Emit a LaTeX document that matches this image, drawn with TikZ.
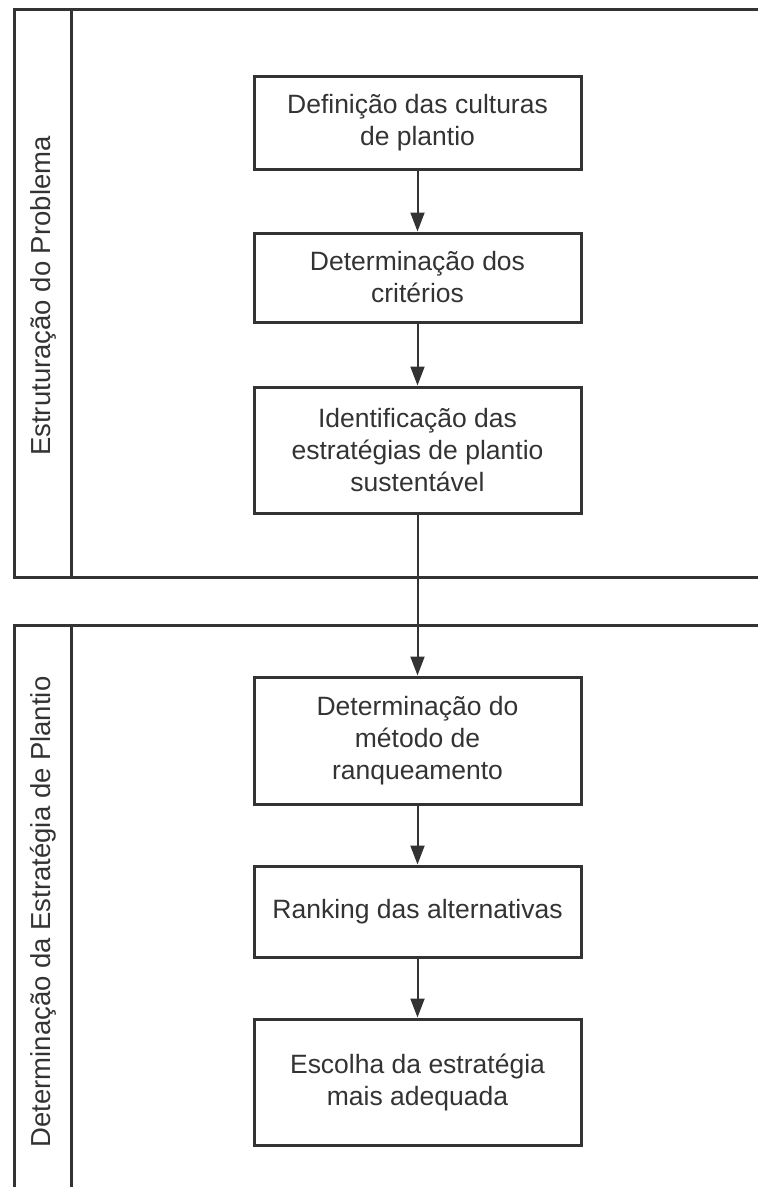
\documentclass[tikz,border=0pt]{standalone}
\usepackage{fontspec}
\setmainfont{Liberation Sans}
\usetikzlibrary{arrows.meta}
\definecolor{ink}{HTML}{333333}
\begin{document}
\begin{tikzpicture}[x=1pt,y=-1pt,
  lane/.style={draw=ink,line width=3pt},
  stepbox/.style={draw=ink,line width=3pt,minimum width=327pt,align=center,
    text=ink,font=\fontsize{26.5}{32}\selectfont,inner sep=0pt},
  flow/.style={draw=ink,line width=2pt,-{Triangle[length=19pt,width=14pt]}},
  lanelabel/.style={rotate=90,text=ink,font=\fontsize{27.5}{33}\selectfont,inner sep=0pt}]
\useasboundingbox (0,0) rectangle (758,1187);
% lanes
\draw[lane] (758,9) -- (14,9) -- (14,577) -- (758,577);
\draw[lane] (71,9) -- (71,577);
\draw[lane] (758,625) -- (14,625) -- (14,1190);
\draw[lane] (71,625) -- (71,1190);
\node[lanelabel] (l1) at (43,296) {Estruturação do Problema};
\node[lanelabel] (l2) at (43,912) {Determinação da Estratégia de Plantio};
% boxes
\node[stepbox,minimum height=93pt] (b1) at (417.5,122.5) {Definição das culturas\\de plantio};
\node[stepbox,minimum height=89pt] (b2) at (417.5,277.5) {Determinação dos\\critérios};
\node[stepbox,minimum height=126pt] (b3) at (417.5,450) {Identificação das\\estratégias de plantio\\sustentável};
\node[stepbox,minimum height=127pt] (b4) at (417.5,740.5) {Determinação do\\método de\\ranqueamento};
\node[stepbox,minimum height=91pt] (b5) at (417.5,911.5) {Ranking das alternativas};
\node[stepbox,minimum height=126pt] (b6) at (417.5,1082) {Escolha da estratégia\\mais adequada};
% connectors
\draw[flow] (b1.south) -- (b2.north);
\draw[flow] (b2.south) -- (b3.north);
\draw[flow] (b3.south) -- (b4.north);
\draw[flow] (b4.south) -- (b5.north);
\draw[flow] (b5.south) -- (b6.north);
\end{tikzpicture}
\end{document}
